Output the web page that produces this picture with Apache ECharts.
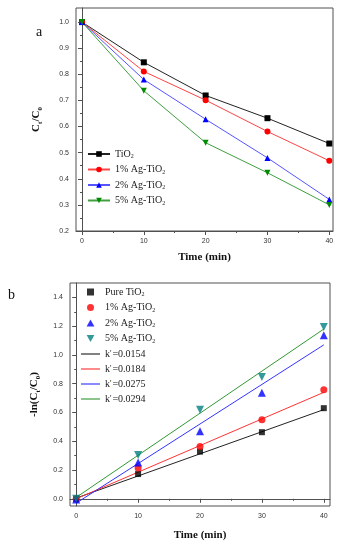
<!DOCTYPE html>
<html><head><meta charset="utf-8">
<script src="https://cdn.jsdelivr.net/npm/echarts@6/dist/echarts.min.js"></script>
<style>html,body{margin:0;padding:0;background:#fff}#c{width:344px;height:550px}</style>
</head><body><div id="c"></div>
<script>
// ---- data (panel a) ----
const timeA = [0, 10, 20, 30, 40];
const tio2A = [1.0, 0.846, 0.719, 0.632, 0.535];
const ag1A  = [1.0, 0.811, 0.701, 0.581, 0.469];
const ag2A  = [1.0, 0.780, 0.628, 0.480, 0.321];
const ag5A  = [1.0, 0.737, 0.538, 0.423, 0.300];
// ---- data (panel b) ----
const timeB = [0, 10, 20, 30, 40];
const tio2B = [0.0, 0.172, 0.328, 0.463, 0.630];
const ag1B  = [0.0, 0.214, 0.363, 0.549, 0.758];
const ag2B  = [-0.005, 0.253, 0.470, 0.737, 1.137];
const ag5B  = [0.0, 0.305, 0.619, 0.846, 1.195];
const fitX  = [0, 40];
const fit1  = [0.005, 0.62];
const fit2  = [0.0, 0.74];
const fit3  = [-0.03, 1.07];
const fit4  = [0.01, 1.18];
// ---- tick labels ----
const xTicks = [0, 10, 20, 30, 40];
const xMinor = [5, 15, 25, 35];
const yTicksA = [0.2, 0.3, 0.4, 0.5, 0.6, 0.7, 0.8, 0.9, 1.0];
const yMinorA = [0.25, 0.35, 0.45, 0.55, 0.65, 0.75, 0.85, 0.95];
const yTicksB = [0.0, 0.2, 0.4, 0.6, 0.8, 1.0, 1.2, 1.4];
const yMinorB = [0.1, 0.3, 0.5, 0.7, 0.9, 1.1, 1.3];

const labels = {
  a0: 'TiO{s|2}', a1: '1% Ag-TiO{s|2}', a2: '2% Ag-TiO{s|2}', a3: '5% Ag-TiO{s|2}',
  b0: 'Pure TiO{s|2}', b1: '1% Ag-TiO{s|2}', b2: '2% Ag-TiO{s|2}', b3: '5% Ag-TiO{s|2}',
  f0: "k{p|'}=0.0154", f1: "k{p|'}=0.0184", f2: "k{p|'}=0.0275", f3: "k{p|'}=0.0294"
};
const pairs = (xs, ys) => xs.map((x, i) => [x, ys[i]]);

const frame = '#505050';
const tickLbl = {color: '#333', fontSize: 7, fontFamily: 'Liberation Sans'};
const serif = 'Liberation Serif';

function mainX(grid, min, max, name, gap) {
  return {type: 'value', gridIndex: grid, min, max, position: 'bottom',
    name, nameLocation: 'middle', nameGap: gap,
    nameTextStyle: {fontFamily: serif, fontWeight: 'bold', fontSize: 11, color: '#111'},
    axisLine: {show: true, lineStyle: {color: frame, width: 1}},
    axisTick: {show: true, customValues: xTicks, length: 4, lineStyle: {color: frame}},
    axisLabel: Object.assign({customValues: xTicks, margin: 7}, tickLbl),
    splitLine: {show: false}};
}
function minorX(grid, min, max) {
  return {type: 'value', gridIndex: grid, min, max, position: 'bottom',
    axisLine: {show: false}, axisLabel: {show: false}, splitLine: {show: false},
    axisTick: {show: true, customValues: xMinor, length: 2, lineStyle: {color: frame}}};
}
function mainY(grid, min, max, ticks, name, gap, rich) {
  return {type: 'value', gridIndex: grid, min, max, position: 'left',
    name, nameLocation: 'middle', nameGap: gap,
    nameTextStyle: {fontFamily: serif, fontWeight: 'bold', fontSize: 11, color: '#111', rich},
    axisLine: {show: true, lineStyle: {color: frame, width: 1}},
    axisTick: {show: true, customValues: ticks, length: 4, lineStyle: {color: frame}},
    axisLabel: Object.assign({customValues: ticks, margin: 7, formatter: v => (+v).toFixed(1)}, tickLbl),
    splitLine: {show: false}};
}
function minorY(grid, min, max, ticks) {
  return {type: 'value', gridIndex: grid, min, max, position: 'left',
    axisLine: {show: false}, axisLabel: {show: false}, splitLine: {show: false},
    axisTick: {show: true, customValues: ticks, length: 2, lineStyle: {color: frame}}};
}

const nameRich = {
  s: {fontFamily: serif, fontWeight: 'bold', fontSize: 7, verticalAlign: 'bottom', lineHeight: 16, padding: [5, 0, 0, 0]},
  n: {fontFamily: serif, fontWeight: 'bold', fontSize: 11, lineHeight: 16}
};
const legRich = {
  s: {fontFamily: serif, fontSize: 6, padding: [5, 0, 0, 0], color: '#222'},
  p: {fontFamily: serif, fontSize: 8, color: '#222', padding: [0, 1, 0, 0]}
};

const ICON_SQ = 'path://M0,0L10,0L10,10L0,10Z';
const ICON_TRI = 'path://M5,0L10,9L0,9Z';
const ICON_TRID = 'path://M0,0L10,0L5,9Z';
const ICON_LINE = 'path://M0,0L100,0L100,6L0,6Z';

function lineA(id, ys, color, lineColor, symbol, rot) {
  return {type: 'line', name: id, xAxisIndex: 0, yAxisIndex: 0, data: pairs(timeA, ys),
    symbol, symbolSize: 6, symbolRotate: rot || 0, showAllSymbol: true,
    itemStyle: {color}, lineStyle: {color: lineColor, width: 1}, z: 3};
}
function scatB(id, ys, color, symbol, size, rot) {
  return {type: 'scatter', name: id, xAxisIndex: 2, yAxisIndex: 2, data: pairs(timeB, ys),
    symbol, symbolSize: size, symbolRotate: rot || 0, itemStyle: {color}, z: 4};
}
function fitB(id, ys, color) {
  return {type: 'line', name: id, xAxisIndex: 2, yAxisIndex: 2, data: pairs(fitX, ys),
    symbol: 'none', lineStyle: {color, width: 1}, itemStyle: {color}, z: 3};
}

const chart = echarts.init(document.getElementById('c'), null, {renderer: 'canvas'});
chart.setOption({
  animation: false,
  backgroundColor: '#fff',
  grid: [
    {left: 76, top: 8, width: 257, height: 223, show: true, borderColor: frame, borderWidth: 1, containLabel: false},
    {left: 70, top: 283, width: 260, height: 223, show: true, borderColor: frame, borderWidth: 1, containLabel: false}
  ],
  xAxis: [
    mainX(0, -0.97, 40.6, 'Time (min)', 21), minorX(0, -0.97, 40.6),
    mainX(1, -1, 41, 'Time (min)', 24), minorX(1, -1, 41)
  ],
  yAxis: [
    mainY(0, 0.2, 1.054, yTicksA, '{n|C}{s|t}{n|/C}{s|0}', 32, nameRich), minorY(0, 0.2, 1.054, yMinorA),
    mainY(1, -0.05, 1.5, yTicksB, '{n|-ln(C}{s|t}{n|/C}{s|0}{n|)}', 28, nameRich), minorY(1, -0.05, 1.5, yMinorB)
  ],
  legend: [
    {data: ['a0', 'a1', 'a2', 'a3'], orient: 'vertical', left: 87, top: 149, padding: 0,
     itemWidth: 22, itemHeight: 7, itemGap: 5, selectedMode: false,
     formatter: n => labels[n], textStyle: {fontFamily: serif, fontSize: 10, color: '#222', rich: legRich}},
    {data: [
        {name: 'b0', icon: ICON_SQ, itemStyle: {color: '#000'}},
        {name: 'b1', icon: 'circle'},
        {name: 'b2', icon: ICON_TRI},
        {name: 'b3', icon: ICON_TRID},
        {name: 'f0', icon: ICON_LINE}, {name: 'f1', icon: ICON_LINE},
        {name: 'f2', icon: ICON_LINE}, {name: 'f3', icon: ICON_LINE}],
     orient: 'vertical', left: 81, top: 287, padding: 0,
     itemWidth: 19, itemHeight: 7, itemGap: 5, selectedMode: false,
     formatter: n => labels[n], textStyle: {fontFamily: serif, fontSize: 10, color: '#222', rich: legRich}}
  ],
  graphic: [
    {type: 'text', left: 36, top: 25, style: {text: 'a', font: '14px "Liberation Serif"', fill: '#111'}},
    {type: 'text', left: 8, top: 288, style: {text: 'b', font: '14px "Liberation Serif"', fill: '#111'}}
  ],
  series: [
    lineA('a0', tio2A, '#000000', '#222222', 'rect'),
    lineA('a1', ag1A, '#ff0000', '#ff4444', 'circle'),
    lineA('a2', ag2A, '#0000ff', '#5555ff', 'triangle'),
    lineA('a3', ag5A, '#008a00', '#40a040', 'triangle', 180),
    fitB('f0', fit1, '#222222'),
    fitB('f1', fit2, '#ff3333'),
    fitB('f2', fit3, '#3333ff'),
    fitB('f3', fit4, '#339933'),
    scatB('b0', tio2B, '#000000', 'rect', 6),
    scatB('b1', ag1B, '#ff0000', 'circle', 7),
    scatB('b2', ag2B, '#0000ff', 'triangle', 8),
    scatB('b3', ag5B, '#008080', 'triangle', 8, 180)
  ]
});
</script></body></html>
